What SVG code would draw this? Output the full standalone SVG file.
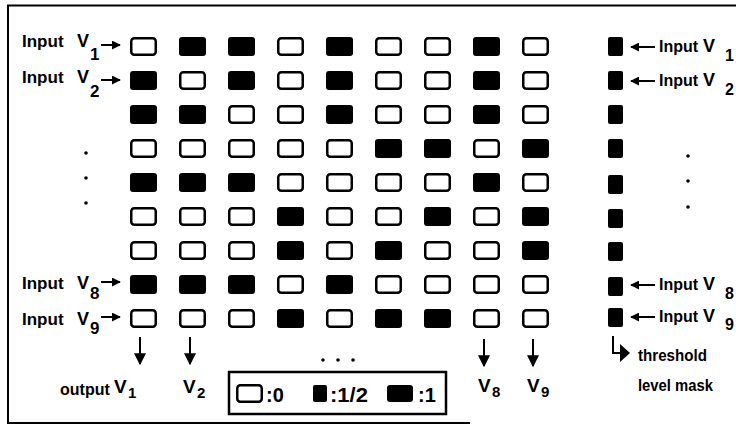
<svg xmlns="http://www.w3.org/2000/svg" width="736" height="427" viewBox="0 0 736 427">
<style>
.e{fill:#fff;stroke:#000;stroke-width:2.5;rx:3px}
.f{fill:#000;rx:3px}
.m{fill:#000;rx:2px}
.t{font-family:"Liberation Sans",Arial,sans-serif;font-weight:bold;fill:#000}
.c{stroke:#000;stroke-width:2;fill:none}
.d{fill:#000}
</style>
<defs>
<marker id="ah" viewBox="0 0 10 10" refX="9" refY="5" markerWidth="9" markerHeight="9" markerUnits="userSpaceOnUse" orient="auto"><path d="M0,0 L10,5 L0,10 z"/></marker>
<marker id="ahb" viewBox="0 0 10 10" refX="9" refY="5" markerWidth="12" markerHeight="12" markerUnits="userSpaceOnUse" orient="auto"><path d="M0,0 L10,5 L0,10 z"/></marker>
</defs>
<rect width="736" height="427" fill="#fff"/>
<path d="M736,5.5 H8 V423 H470" stroke="#000" stroke-width="2" fill="none"/>

<g id="grid">
<g id="row1" transform="translate(0,37)">
<rect class="e" x="131.25" y="1.25" width="24.5" height="16.5"/><rect class="f" x="179" y="0" width="27" height="19"/><rect class="f" x="228" y="0" width="27" height="19"/><rect class="e" x="278.25" y="1.25" width="24.5" height="16.5"/><rect class="f" x="326" y="0" width="27" height="19"/><rect class="e" x="376.25" y="1.25" width="24.5" height="16.5"/><rect class="e" x="425.25" y="1.25" width="24.5" height="16.5"/><rect class="f" x="473" y="0" width="27" height="19"/><rect class="e" x="523.25" y="1.25" width="24.5" height="16.5"/>
</g>
<g id="row2" transform="translate(0,71)">
<rect class="f" x="130" y="0" width="27" height="19"/><rect class="e" x="180.25" y="1.25" width="24.5" height="16.5"/><rect class="f" x="228" y="0" width="27" height="19"/><rect class="e" x="278.25" y="1.25" width="24.5" height="16.5"/><rect class="f" x="326" y="0" width="27" height="19"/><rect class="e" x="376.25" y="1.25" width="24.5" height="16.5"/><rect class="e" x="425.25" y="1.25" width="24.5" height="16.5"/><rect class="f" x="473" y="0" width="27" height="19"/><rect class="e" x="523.25" y="1.25" width="24.5" height="16.5"/>
</g>
<g id="row3" transform="translate(0,105)">
<rect class="f" x="130" y="0" width="27" height="19"/><rect class="f" x="179" y="0" width="27" height="19"/><rect class="e" x="229.25" y="1.25" width="24.5" height="16.5"/><rect class="e" x="278.25" y="1.25" width="24.5" height="16.5"/><rect class="f" x="326" y="0" width="27" height="19"/><rect class="e" x="376.25" y="1.25" width="24.5" height="16.5"/><rect class="e" x="425.25" y="1.25" width="24.5" height="16.5"/><rect class="f" x="473" y="0" width="27" height="19"/><rect class="e" x="523.25" y="1.25" width="24.5" height="16.5"/>
</g>
<g id="row4" transform="translate(0,139)">
<rect class="e" x="131.25" y="1.25" width="24.5" height="16.5"/><rect class="e" x="180.25" y="1.25" width="24.5" height="16.5"/><rect class="e" x="229.25" y="1.25" width="24.5" height="16.5"/><rect class="e" x="278.25" y="1.25" width="24.5" height="16.5"/><rect class="e" x="327.25" y="1.25" width="24.5" height="16.5"/><rect class="f" x="375" y="0" width="27" height="19"/><rect class="f" x="424" y="0" width="27" height="19"/><rect class="e" x="474.25" y="1.25" width="24.5" height="16.5"/><rect class="f" x="522" y="0" width="27" height="19"/>
</g>
<g id="row5" transform="translate(0,173)">
<rect class="f" x="130" y="0" width="27" height="19"/><rect class="f" x="179" y="0" width="27" height="19"/><rect class="f" x="228" y="0" width="27" height="19"/><rect class="e" x="278.25" y="1.25" width="24.5" height="16.5"/><rect class="e" x="327.25" y="1.25" width="24.5" height="16.5"/><rect class="e" x="376.25" y="1.25" width="24.5" height="16.5"/><rect class="e" x="425.25" y="1.25" width="24.5" height="16.5"/><rect class="f" x="473" y="0" width="27" height="19"/><rect class="e" x="523.25" y="1.25" width="24.5" height="16.5"/>
</g>
<g id="row6" transform="translate(0,207)">
<rect class="e" x="131.25" y="1.25" width="24.5" height="16.5"/><rect class="e" x="180.25" y="1.25" width="24.5" height="16.5"/><rect class="e" x="229.25" y="1.25" width="24.5" height="16.5"/><rect class="f" x="277" y="0" width="27" height="19"/><rect class="e" x="327.25" y="1.25" width="24.5" height="16.5"/><rect class="e" x="376.25" y="1.25" width="24.5" height="16.5"/><rect class="f" x="424" y="0" width="27" height="19"/><rect class="e" x="474.25" y="1.25" width="24.5" height="16.5"/><rect class="f" x="522" y="0" width="27" height="19"/>
</g>
<g id="row7" transform="translate(0,241)">
<rect class="e" x="131.25" y="1.25" width="24.5" height="16.5"/><rect class="e" x="180.25" y="1.25" width="24.5" height="16.5"/><rect class="e" x="229.25" y="1.25" width="24.5" height="16.5"/><rect class="f" x="277" y="0" width="27" height="19"/><rect class="e" x="327.25" y="1.25" width="24.5" height="16.5"/><rect class="f" x="375" y="0" width="27" height="19"/><rect class="e" x="425.25" y="1.25" width="24.5" height="16.5"/><rect class="e" x="474.25" y="1.25" width="24.5" height="16.5"/><rect class="f" x="522" y="0" width="27" height="19"/>
</g>
<g id="row8" transform="translate(0,275)">
<rect class="f" x="130" y="0" width="27" height="19"/><rect class="f" x="179" y="0" width="27" height="19"/><rect class="f" x="228" y="0" width="27" height="19"/><rect class="e" x="278.25" y="1.25" width="24.5" height="16.5"/><rect class="f" x="326" y="0" width="27" height="19"/><rect class="e" x="376.25" y="1.25" width="24.5" height="16.5"/><rect class="e" x="425.25" y="1.25" width="24.5" height="16.5"/><rect class="e" x="474.25" y="1.25" width="24.5" height="16.5"/><rect class="e" x="523.25" y="1.25" width="24.5" height="16.5"/>
</g>
<g id="row9" transform="translate(0,309)">
<rect class="e" x="131.25" y="1.25" width="24.5" height="16.5"/><rect class="e" x="180.25" y="1.25" width="24.5" height="16.5"/><rect class="e" x="229.25" y="1.25" width="24.5" height="16.5"/><rect class="f" x="277" y="0" width="27" height="19"/><rect class="e" x="327.25" y="1.25" width="24.5" height="16.5"/><rect class="f" x="375" y="0" width="27" height="19"/><rect class="f" x="424" y="0" width="27" height="19"/><rect class="e" x="474.25" y="1.25" width="24.5" height="16.5"/><rect class="e" x="523.25" y="1.25" width="24.5" height="16.5"/>
</g>
</g>

<g id="mask">
<rect class="m" x="608" y="37" width="15" height="19"/>
<rect class="m" x="608" y="71" width="15" height="19"/>
<rect class="m" x="608" y="105" width="15" height="19"/>
<rect class="m" x="608" y="139" width="15" height="19"/>
<rect class="m" x="608" y="175" width="15" height="19"/>
<rect class="m" x="608" y="209" width="15" height="19"/>
<rect class="m" x="608" y="242" width="15" height="19"/>
<rect class="m" x="608" y="277" width="15" height="19"/>
<rect class="m" x="608" y="308" width="15" height="19"/>
</g>

<g id="left-labels" class="t">
<text x="22" y="47" font-size="17">Input</text>
<text x="77" y="47" font-size="18">V</text>
<text x="90" y="60" font-size="17">1</text>
<text x="22" y="83" font-size="17">Input</text>
<text x="77" y="83" font-size="18">V</text>
<text x="90" y="97" font-size="17">2</text>
<text x="22" y="289" font-size="17">Input</text>
<text x="77" y="289" font-size="18">V</text>
<text x="90" y="299" font-size="17">8</text>
<text x="22" y="325" font-size="17">Input</text>
<text x="77" y="325" font-size="18">V</text>
<text x="90" y="334" font-size="17">9</text>
</g>

<g id="right-labels" class="t">
<text x="659" y="52" font-size="16">Input</text>
<text x="703" y="52" font-size="18">V</text>
<text x="725" y="61" font-size="16">1</text>
<text x="659" y="86" font-size="16">Input</text>
<text x="703" y="86" font-size="18">V</text>
<text x="725" y="95" font-size="16">2</text>
<text x="659" y="290" font-size="16">Input</text>
<text x="703" y="290" font-size="18">V</text>
<text x="725" y="299" font-size="16">8</text>
<text x="659" y="322" font-size="16">Input</text>
<text x="703" y="322" font-size="18">V</text>
<text x="725" y="330" font-size="16">9</text>
<text x="638" y="361" font-size="17" textLength="69" lengthAdjust="spacingAndGlyphs">threshold</text>
<text x="638" y="391" font-size="17" textLength="75" lengthAdjust="spacingAndGlyphs">level mask</text>
</g>

<g id="dots">
<circle class="d" cx="86" cy="153" r="1.8"/><circle class="d" cx="86" cy="178" r="1.8"/><circle class="d" cx="86" cy="203" r="1.8"/>
<circle class="d" cx="688" cy="156" r="1.8"/><circle class="d" cx="688" cy="181" r="1.8"/><circle class="d" cx="688" cy="207" r="1.8"/>
<circle class="d" cx="323" cy="360" r="1.8"/><circle class="d" cx="338" cy="360" r="1.8"/><circle class="d" cx="353" cy="360" r="1.8"/>
</g>

<g id="connectors">
<line class="c" x1="101" y1="45" x2="120" y2="45" marker-end="url(#ah)"/>
<line class="c" x1="101" y1="80" x2="120" y2="80" marker-end="url(#ah)"/>
<line class="c" x1="101" y1="282" x2="120" y2="282" marker-end="url(#ah)"/>
<line class="c" x1="101" y1="317" x2="120" y2="317" marker-end="url(#ah)"/>
<line class="c" x1="655" y1="47" x2="631" y2="47" marker-end="url(#ah)"/>
<line class="c" x1="655" y1="81" x2="631" y2="81" marker-end="url(#ah)"/>
<line class="c" x1="655" y1="285" x2="631" y2="285" marker-end="url(#ah)"/>
<line class="c" x1="655" y1="317" x2="631" y2="317" marker-end="url(#ah)"/>
<line class="c" x1="140" y1="337" x2="140" y2="364" stroke-width="2.5" marker-end="url(#ahb)"/>
<line class="c" x1="190" y1="337" x2="190" y2="364" stroke-width="2.5" marker-end="url(#ahb)"/>
<line class="c" x1="484" y1="339" x2="484" y2="366" stroke-width="2.5" marker-end="url(#ahb)"/>
<line class="c" x1="533" y1="339" x2="533" y2="366" stroke-width="2.5" marker-end="url(#ahb)"/>
<path class="c" d="M613,336 V353 H621" stroke-width="2.5"/>
<polygon points="620,344 630,353 620,362" fill="#000"/>
</g>

<g id="outputs" class="t">
<text x="60" y="395" font-size="16">output</text>
<text x="114" y="393" font-size="19">V</text>
<text x="128" y="398" font-size="15">1</text>
<text x="183" y="393" font-size="19">V</text>
<text x="197" y="398" font-size="15">2</text>
<text x="478" y="392" font-size="19">V</text>
<text x="492" y="397" font-size="15">8</text>
<text x="527" y="392" font-size="19">V</text>
<text x="541" y="397" font-size="15">9</text>
</g>

<g id="legend">
<rect x="229" y="372" width="217" height="42" fill="none" stroke="#000" stroke-width="2.5"/>
<rect class="e" x="237.25" y="385.25" width="24.5" height="16.5"/>
<text class="t" x="266" y="402" font-size="20">:0</text>
<rect class="m" x="313" y="385" width="14" height="17"/>
<text class="t" x="330" y="402" font-size="20" textLength="38" lengthAdjust="spacingAndGlyphs">:1/2</text>
<rect class="f" x="387" y="385" width="26" height="17"/>
<text class="t" x="418" y="402" font-size="20">:1</text>
</g>
</svg>
